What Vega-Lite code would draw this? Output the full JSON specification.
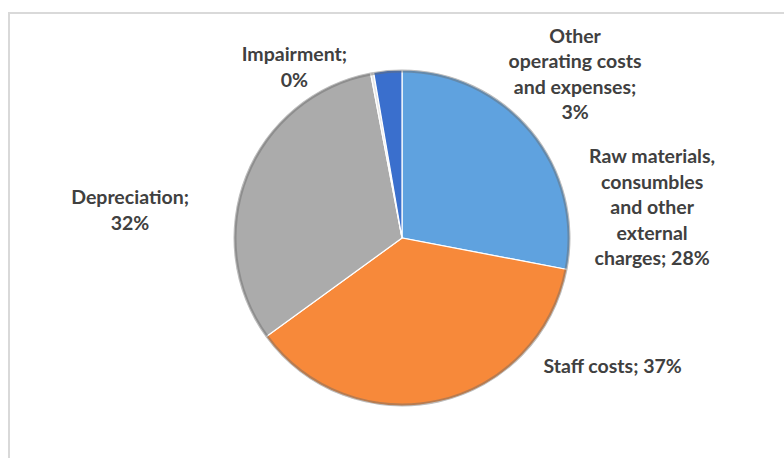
{
  "$schema": "https://vega.github.io/schema/vega-lite/v6.json",
  "width": 786,
  "height": 450,
  "padding": {"left": 9, "top": 13, "right": 0, "bottom": 0},
  "autosize": {"type": "none"},
  "background": "#ffffff",
  "view": {"stroke": "#d9d9d9", "strokeWidth": 2},
  "config": {"view": {"stroke": "#d9d9d9", "strokeWidth": 2}},
  "data": {
    "values": [
      {"name": "Raw materials, consumbles and other external charges", "value": 28, "rank": 1, "label": "Raw materials,\nconsumbles\nand other\nexternal\ncharges; 28%"},
      {"name": "Staff costs", "value": 37, "rank": 2, "label": "Staff costs; 37%"},
      {"name": "Depreciation", "value": 32, "rank": 3, "label": "Depreciation;\n32%"},
      {"name": "Impairment", "value": 0.3, "rank": 4, "label": "Impairment;\n0%"},
      {"name": "Other operating costs and expenses", "value": 2.7, "rank": 5, "label": "Other\noperating costs\nand expenses;\n3%"}
    ]
  },
  "encoding": {
    "theta": {"field": "value", "type": "quantitative", "stack": true},
    "order": {"field": "rank", "type": "quantitative"}
  },
  "layer": [
    {
      "mark": {"type": "arc", "outerRadius": 168, "stroke": "#ffffff", "strokeWidth": 1.2},
      "encoding": {
        "color": {
          "field": "name",
          "type": "nominal",
          "scale": {
            "domain": ["Raw materials, consumbles and other external charges", "Staff costs", "Depreciation", "Impairment", "Other operating costs and expenses"],
            "range": ["#5fa2df", "#f7893a", "#ababab", "#e6e6e6", "#3a6fcd"]
          },
          "legend": null
        }
      }
    },
    {
      "mark": {"type": "arc", "innerRadius": 165.5, "outerRadius": 168.5, "fill": "#6b6b6b", "fillOpacity": 0.45, "strokeWidth": 0}
    },
    {
      "mark": {"type": "text", "radius": 200, "dx": 96, "dy": 46.5, "font": "Lato", "fontWeight": "bold", "fontSize": 19.5, "lineHeight": 25.5, "lineBreak": "\n", "color": "#404040", "align": "center", "baseline": "middle"},
      "encoding": {"text": {"condition": {"test": "datum.rank === 1", "field": "label"}, "value": ""}}
    },
    {
      "mark": {"type": "text", "radius": 200, "dx": 167, "dy": -66, "font": "Lato", "fontWeight": "bold", "fontSize": 19.5, "lineHeight": 25.5, "lineBreak": "\n", "color": "#404040", "align": "center", "baseline": "middle"},
      "encoding": {"text": {"condition": {"test": "datum.rank === 2", "field": "label"}, "value": ""}}
    },
    {
      "mark": {"type": "text", "radius": 200, "dx": -86, "dy": 34, "font": "Lato", "fontWeight": "bold", "fontSize": 19.5, "lineHeight": 25.5, "lineBreak": "\n", "color": "#404040", "align": "center", "baseline": "middle"},
      "encoding": {"text": {"condition": {"test": "datum.rank === 3", "field": "label"}, "value": ""}}
    },
    {
      "mark": {"type": "text", "radius": 200, "dx": -72, "dy": 14, "font": "Lato", "fontWeight": "bold", "fontSize": 19.5, "lineHeight": 25.5, "lineBreak": "\n", "color": "#404040", "align": "center", "baseline": "middle"},
      "encoding": {"text": {"condition": {"test": "datum.rank === 4", "field": "label"}, "value": ""}}
    },
    {
      "mark": {"type": "text", "radius": 200, "dx": 190, "dy": -2, "font": "Lato", "fontWeight": "bold", "fontSize": 19.5, "lineHeight": 25.5, "lineBreak": "\n", "color": "#404040", "align": "center", "baseline": "middle"},
      "encoding": {"text": {"condition": {"test": "datum.rank === 5", "field": "label"}, "value": ""}}
    }
  ]
}
